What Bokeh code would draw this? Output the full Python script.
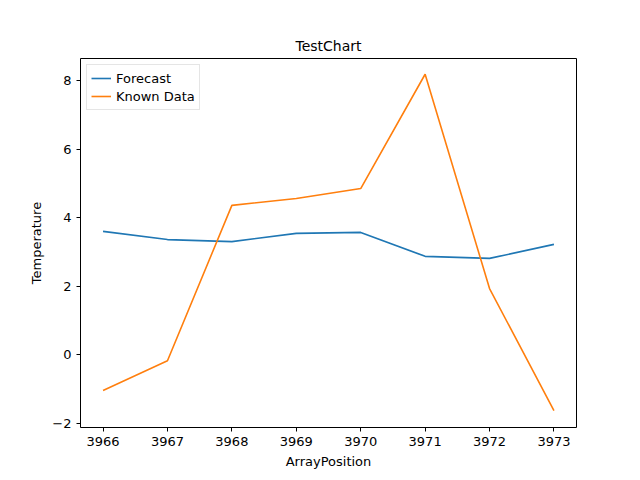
from bokeh.plotting import figure
from bokeh.embed import file_html
from bokeh.resources import INLINE
from bokeh.models import Range1d, FixedTicker

positions = [3966, 3967, 3968, 3969, 3970, 3971, 3972, 3973]
forecast = [3.6, 3.36, 3.3, 3.54, 3.57, 2.87, 2.81, 3.22]
known = [-1.05, -0.18, 4.36, 4.56, 4.85, 8.19, 1.93, -1.64]

p = figure(width=632, height=472, output_backend="svg", toolbar_location=None,
           x_range=Range1d(3965.65, 3973.35), y_range=Range1d(-2.13, 8.65),
           min_border_left=80, min_border_right=56, min_border_top=58, min_border_bottom=45,
           title="TestChart")
p.title.align = "center"
p.title.text_font = "DejaVu Sans"
p.title.text_font_size = "14px"
p.title.text_font_style = "normal"
p.title.text_color = "black"
p.line(positions, forecast, line_color="#1f77b4", line_width=1.6, legend_label="Forecast")
p.line(positions, known, line_color="#ff7f0e", line_width=1.6, legend_label="Known Data")
p.xgrid.visible = False
p.ygrid.visible = False
p.xaxis.ticker = FixedTicker(ticks=positions)
p.yaxis.ticker = FixedTicker(ticks=[-2, 0, 2, 4, 6, 8])
p.xaxis.axis_label = "ArrayPosition"
p.yaxis.axis_label = "Temperature"
for ax in (p.xaxis[0], p.yaxis[0]):
    ax.axis_label_text_font = "DejaVu Sans"
    ax.axis_label_text_font_style = "normal"
    ax.axis_label_text_font_size = "13px"
    ax.axis_label_text_color = "black"
    ax.major_label_text_font = "DejaVu Sans"
    ax.major_label_text_font_size = "13px"
    ax.major_label_text_color = "black"
    ax.minor_tick_line_color = None
    ax.major_tick_line_color = "black"
    ax.major_tick_in = 0
    ax.major_tick_out = 4
    ax.axis_line_color = None
p.outline_line_color = "black"
p.outline_line_alpha = 1
p.legend.location = "top_left"
p.legend.label_text_font = "DejaVu Sans"
p.legend.label_text_font_size = "13px"
p.legend.label_text_color = "black"
p.legend.border_line_color = "#cccccc"
p.legend.spacing = 0
p.legend.padding = 4
p.legend.margin = 6
p.legend.glyph_height = 18
p.legend.label_height = 18

open("out.html", "w").write(file_html(p, INLINE))
